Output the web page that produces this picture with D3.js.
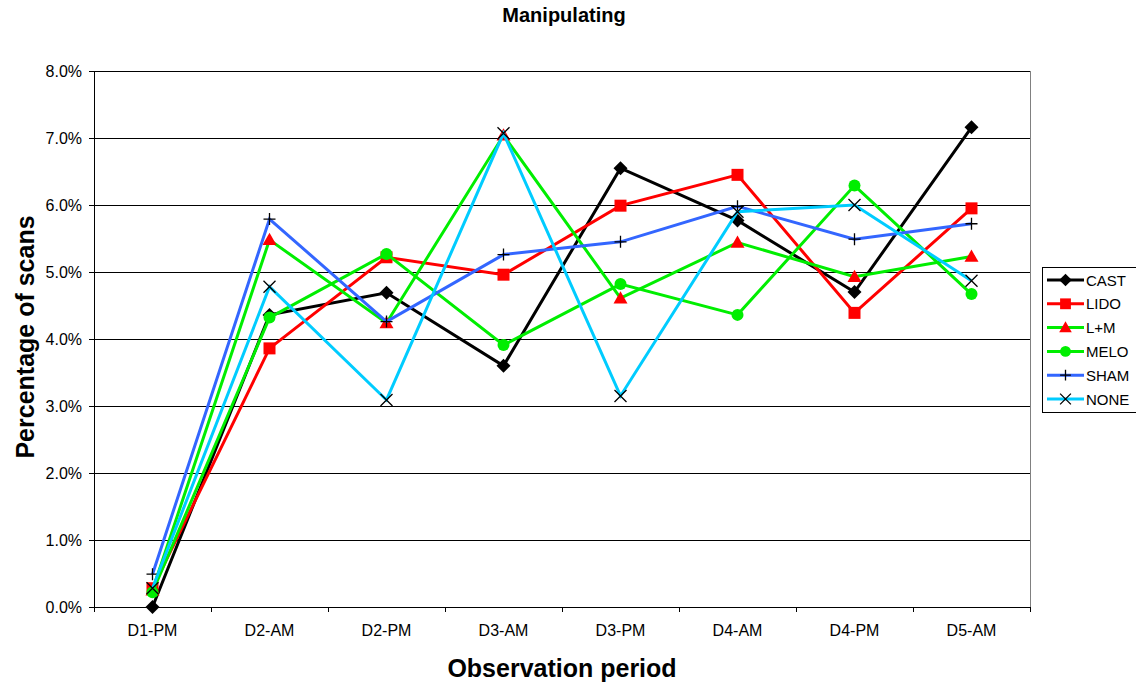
<!DOCTYPE html>
<html>
<head>
<meta charset="utf-8">
<script src="https://cdn.jsdelivr.net/npm/d3@7"></script>
<style>
  html, body { margin: 0; padding: 0; background: #fff; }
  svg { display: block; font-family: "Liberation Sans", Arial, sans-serif; }
</style>
</head>
<body>
<svg id="chart" width="1136" height="683"></svg>
<script>
// Observation periods along the x axis
const periods = ["D1-PM", "D2-AM", "D2-PM", "D3-AM", "D3-PM", "D4-AM", "D4-PM", "D5-AM"];

// Percentage of scans spent manipulating, per treatment group
const cast = [0.00, 4.36, 4.69, 3.60, 6.55, 5.77, 4.70, 7.16];
const lido = [0.28, 3.86, 5.22, 4.96, 5.99, 6.45, 4.39, 5.95];
const lm   = [0.25, 5.48, 4.24, 7.04, 4.61, 5.44, 4.93, 5.23];
const melo = [0.22, 4.32, 5.27, 3.91, 4.82, 4.36, 6.29, 4.67];
const sham = [0.49, 5.79, 4.26, 5.26, 5.45, 5.98, 5.49, 5.72];
const none = [0.28, 4.78, 3.09, 7.07, 3.15, 5.90, 6.00, 4.87];

const yTicks = [0, 1, 2, 3, 4, 5, 6, 7, 8];

const series = [
  { name: "CAST", values: cast, line: "#000000", marker: "diamond", mfill: "#000000" },
  { name: "LIDO", values: lido, line: "#ff0000", marker: "square",  mfill: "#ff0000" },
  { name: "L+M",  values: lm,   line: "#00ee00", marker: "triangle", mfill: "#ff0000" },
  { name: "MELO", values: melo, line: "#00ee00", marker: "circle",  mfill: "#00ee00" },
  { name: "SHAM", values: sham, line: "#3366ff", marker: "plus",    mfill: "#000000" },
  { name: "NONE", values: none, line: "#00ccff", marker: "cross",   mfill: "#000000" }
];

const svg = d3.select("#chart");
const plot = { left: 94, right: 1030, top: 71, bottom: 607 };

const x = d3.scaleBand().domain(periods).range([plot.left, plot.right]);
const y = d3.scaleLinear().domain([0, 8]).range([plot.bottom, plot.top]);
const cx = d => x(d) + x.bandwidth() / 2;

// Title
svg.append("text")
  .attr("x", 564).attr("y", 22)
  .attr("text-anchor", "middle")
  .attr("font-size", 20).attr("font-weight", "bold")
  .text("Manipulating");

// Horizontal gridlines
svg.append("g")
  .selectAll("line")
  .data(yTicks.filter(t => t > 0))
  .join("line")
  .attr("x1", plot.left).attr("x2", plot.right)
  .attr("y1", d => y(d)).attr("y2", d => y(d))
  .attr("stroke", "#000").attr("stroke-width", 1)
  .attr("shape-rendering", "crispEdges");

// Plot area frame (right edge)
svg.append("line")
  .attr("x1", plot.right).attr("x2", plot.right)
  .attr("y1", plot.top).attr("y2", plot.bottom)
  .attr("stroke", "#808080").attr("shape-rendering", "crispEdges");

// Y axis
const yAxis = d3.axisLeft(y)
  .tickValues(yTicks)
  .tickFormat(d => d.toFixed(1) + "%")
  .tickSize(5)
  .tickPadding(7);
const gy = svg.append("g")
  .attr("transform", `translate(${plot.left},0)`)
  .call(yAxis);
gy.select(".domain").attr("stroke", "#000").attr("shape-rendering", "crispEdges");
gy.selectAll(".tick line").attr("stroke", "#000").attr("shape-rendering", "crispEdges");
gy.selectAll(".tick text").attr("font-size", 16).attr("fill", "#000")
  .attr("font-family", "'Liberation Sans', Arial, sans-serif");

// X axis: ticks sit between categories, labels at band centres
const gx = svg.append("g")
  .attr("transform", `translate(0,${plot.bottom})`);
gx.append("line")
  .attr("x1", plot.left).attr("x2", plot.right)
  .attr("stroke", "#000").attr("shape-rendering", "crispEdges");
const edges = periods.map(p => x(p)).concat([plot.right]);
gx.selectAll("line.tick")
  .data(edges)
  .join("line")
  .attr("class", "tick")
  .attr("x1", d => Math.round(d)).attr("x2", d => Math.round(d))
  .attr("y1", 0).attr("y2", 5)
  .attr("stroke", "#000").attr("shape-rendering", "crispEdges");
gx.selectAll("text")
  .data(periods)
  .join("text")
  .attr("x", d => cx(d))
  .attr("y", 29)
  .attr("text-anchor", "middle")
  .attr("font-size", 16)
  .text(d => d);

// Axis titles
svg.append("text")
  .attr("x", 562).attr("y", 677)
  .attr("text-anchor", "middle")
  .attr("font-size", 25).attr("font-weight", "bold")
  .text("Observation period");
svg.append("text")
  .attr("transform", "translate(34,337) rotate(-90)")
  .attr("text-anchor", "middle")
  .attr("font-size", 25).attr("font-weight", "bold")
  .text("Percentage of scans");

// Marker drawing
function drawMarker(g, s, px, py, scale) {
  const k = scale || 1;
  if (s.marker === "diamond") {
    const r = 7 * k;
    g.append("path").attr("d", `M${px},${py - r}L${px + r},${py}L${px},${py + r}L${px - r},${py}Z`)
      .attr("fill", s.mfill);
  } else if (s.marker === "square") {
    const r = 6 * k;
    g.append("rect").attr("x", px - r).attr("y", py - r).attr("width", 2 * r).attr("height", 2 * r)
      .attr("fill", s.mfill);
  } else if (s.marker === "triangle") {
    const r = 7 * k;
    g.append("path").attr("d", `M${px},${py - r}L${px + r},${py + r * 0.75}L${px - r},${py + r * 0.75}Z`)
      .attr("fill", s.mfill);
  } else if (s.marker === "circle") {
    g.append("circle").attr("cx", px).attr("cy", py).attr("r", 6 * k).attr("fill", s.mfill);
  } else if (s.marker === "plus") {
    const r = 6 * k;
    g.append("path").attr("d", `M${px - r},${py}H${px + r}M${px},${py - r}V${py + r}`)
      .attr("stroke", s.mfill).attr("stroke-width", 1.3).attr("fill", "none");
  } else if (s.marker === "cross") {
    const r = 6 * k;
    g.append("path").attr("d", `M${px - r},${py - r}L${px + r},${py + r}M${px - r},${py + r}L${px + r},${py - r}`)
      .attr("stroke", s.mfill).attr("stroke-width", 1.3).attr("fill", "none");
  }
}

// Series lines and markers
const line = d3.line()
  .x((d, i) => cx(periods[i]))
  .y(d => y(d));

series.forEach(s => {
  const g = svg.append("g").attr("class", "series");
  g.append("path")
    .datum(s.values)
    .attr("d", line)
    .attr("fill", "none")
    .attr("stroke", s.line)
    .attr("stroke-width", 3)
    .attr("stroke-linejoin", "miter");
  s.values.forEach((v, i) => drawMarker(g, s, cx(periods[i]), y(v)));
});

// Legend
const legend = svg.append("g");
legend.append("rect")
  .attr("x", 1042.5).attr("y", 267.5).attr("width", 96).attr("height", 145)
  .attr("fill", "#fff").attr("stroke", "#000").attr("stroke-width", 1);
series.forEach((s, i) => {
  const ly = 280 + i * 23.8;
  legend.append("line")
    .attr("x1", 1047).attr("x2", 1084).attr("y1", ly).attr("y2", ly)
    .attr("stroke", s.line).attr("stroke-width", 3);
  drawMarker(legend, s, 1065.5, ly, 0.9);
  legend.append("text")
    .attr("x", 1086).attr("y", ly + 5.5)
    .attr("font-size", 15)
    .text(s.name);
});
</script>
</body>
</html>
